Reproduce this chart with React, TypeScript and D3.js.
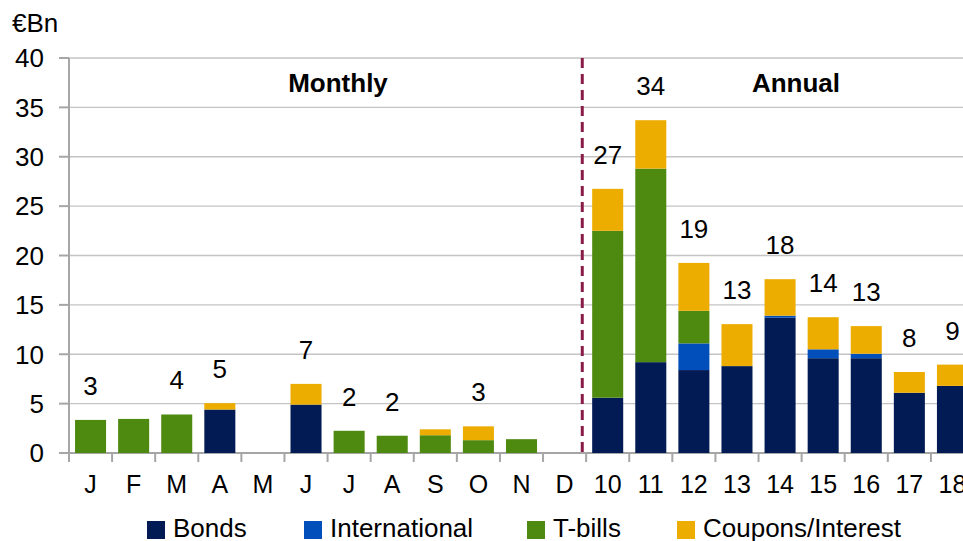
import * as d3 from 'd3'

const categories = ['J', 'F', 'M', 'A', 'M', 'J', 'J', 'A', 'S', 'O', 'N', 'D', '10', '11', '12', '13', '14', '15', '16', '17', '18']
const bonds = [0, 0, 0, 4.4, 0, 4.9, 0, 0, 0, 0, 0, 0, 5.6, 9.2, 8.4, 8.8, 13.7, 9.6, 9.6, 6.1, 6.8]
const international = [0, 0, 0, 0, 0, 0, 0, 0, 0, 0, 0, 0, 0, 0, 2.7, 0, 0.2, 0.9, 0.45, 0, 0]
const tbills = [3.35, 3.45, 3.9, 0, 0, 0, 2.25, 1.75, 1.8, 1.3, 1.4, 0, 16.9, 19.6, 3.3, 0, 0, 0, 0, 0, 0]
const coupons = [0, 0, 0, 0.65, 0, 2.1, 0, 0, 0.6, 1.4, 0, 0, 4.25, 4.9, 4.85, 4.25, 3.7, 3.25, 2.8, 2.1, 2.15]
const totalLabels = ['3', '', '4', '5', '', '7', '2', '2', '', '3', '', '', '27', '34', '19', '13', '18', '14', '13', '8', '9']
const yTicks = [0, 5, 10, 15, 20, 25, 30, 35, 40]
const seriesNames = ['Bonds', 'International', 'T-bills', 'Coupons/Interest']
const colors = ['#021b54', '#004fbb', '#4f8a10', '#ecac00']

const width = 963
const height = 541
const font = '"Liberation Sans", Arial, sans-serif'

export default function App() {
  const x = d3.scaleBand<number>()
    .domain(d3.range(categories.length))
    .range([69, 974])
    .paddingInner(0.28)
    .paddingOuter(0.14)

  const y = d3.scaleLinear().domain([0, 40]).range([453, 58])
  const step = x.step()
  const left = 69
  const edge = (i: number) => left + i * step

  const rows = categories.map((c, i) => ({
    i,
    Bonds: bonds[i],
    International: international[i],
    'T-bills': tbills[i],
    'Coupons/Interest': coupons[i],
  }))
  const stack = d3.stack<any>().keys(seriesNames)(rows)

  const dividerX = edge(12) - step * 0.09
  const legendX = [147, 304, 527, 677]

  return (
    <svg width={width} height={height} style={{ position: 'absolute', left: 0, top: 0, overflow: 'hidden', background: '#fff' }} fontFamily={font}>
      {/* gridlines */}
      {yTicks.map(t => (
        <line key={t} x1={left} x2={width} y1={y(t)} y2={y(t)} stroke={t === 0 ? '#a6a6a6' : '#c4c4c4'} strokeWidth={t === 0 ? 2 : 1.3} />
      ))}
      {/* y axis */}
      <line x1={left} x2={left} y1={y(40)} y2={y(0) + 9} stroke="#a6a6a6" strokeWidth={2} />
      {yTicks.map(t => (
        <g key={'yt' + t}>
          <line x1={59} x2={left} y1={y(t)} y2={y(t)} stroke="#a6a6a6" strokeWidth={2} />
          <text x={44} y={y(t)} dy="0.36em" textAnchor="end" fontSize={26} fill="#000">{t}</text>
        </g>
      ))}
      {/* x ticks */}
      {d3.range(categories.length + 1).map(i => (
        <line key={'xt' + i} x1={edge(i)} x2={edge(i)} y1={y(0)} y2={y(0) + 9} stroke="#a6a6a6" strokeWidth={2} />
      ))}
      {categories.map((c, i) => (
        <text key={'xl' + i} x={(x(i) as number) + x.bandwidth() / 2} y={493} textAnchor="middle" fontSize={25} fill="#000">{c}</text>
      ))}
      {/* bars */}
      {stack.map((s, si) => (
        <g key={s.key} fill={colors[si]}>
          {s.map((d, i) => d[1] - d[0] > 0 ? (
            <rect key={i} x={x(i)} width={x.bandwidth()} y={y(d[1])} height={y(d[0]) - y(d[1])} />
          ) : null)}
        </g>
      ))}
      {/* totals */}
      {totalLabels.map((l, i) => {
        const total = bonds[i] + international[i] + tbills[i] + coupons[i]
        return l ? (
          <text key={'tl' + i} x={(x(i) as number) + x.bandwidth() / 2} y={y(total) - 25} textAnchor="middle" fontSize={26} fill="#000">{l}</text>
        ) : null
      })}
      {/* divider */}
      <line x1={dividerX} x2={dividerX} y1={y(40)} y2={y(0)} stroke="#8a1c48" strokeWidth={3} strokeDasharray="10,6" />
      <text x={338} y={92} textAnchor="middle" fontSize={26} fontWeight="bold">Monthly</text>
      <text x={796} y={92} textAnchor="middle" fontSize={26} fontWeight="bold">Annual</text>
      <text x={12} y={32} fontSize={26}>€Bn</text>
      {/* legend */}
      {seriesNames.map((n, i) => (
        <g key={n}>
          <rect x={legendX[i]} y={521} width={18} height={18} fill={colors[i]} />
          <text x={legendX[i] + 26} y={537} fontSize={26}>{n}</text>
        </g>
      ))}
    </svg>
  )
}
